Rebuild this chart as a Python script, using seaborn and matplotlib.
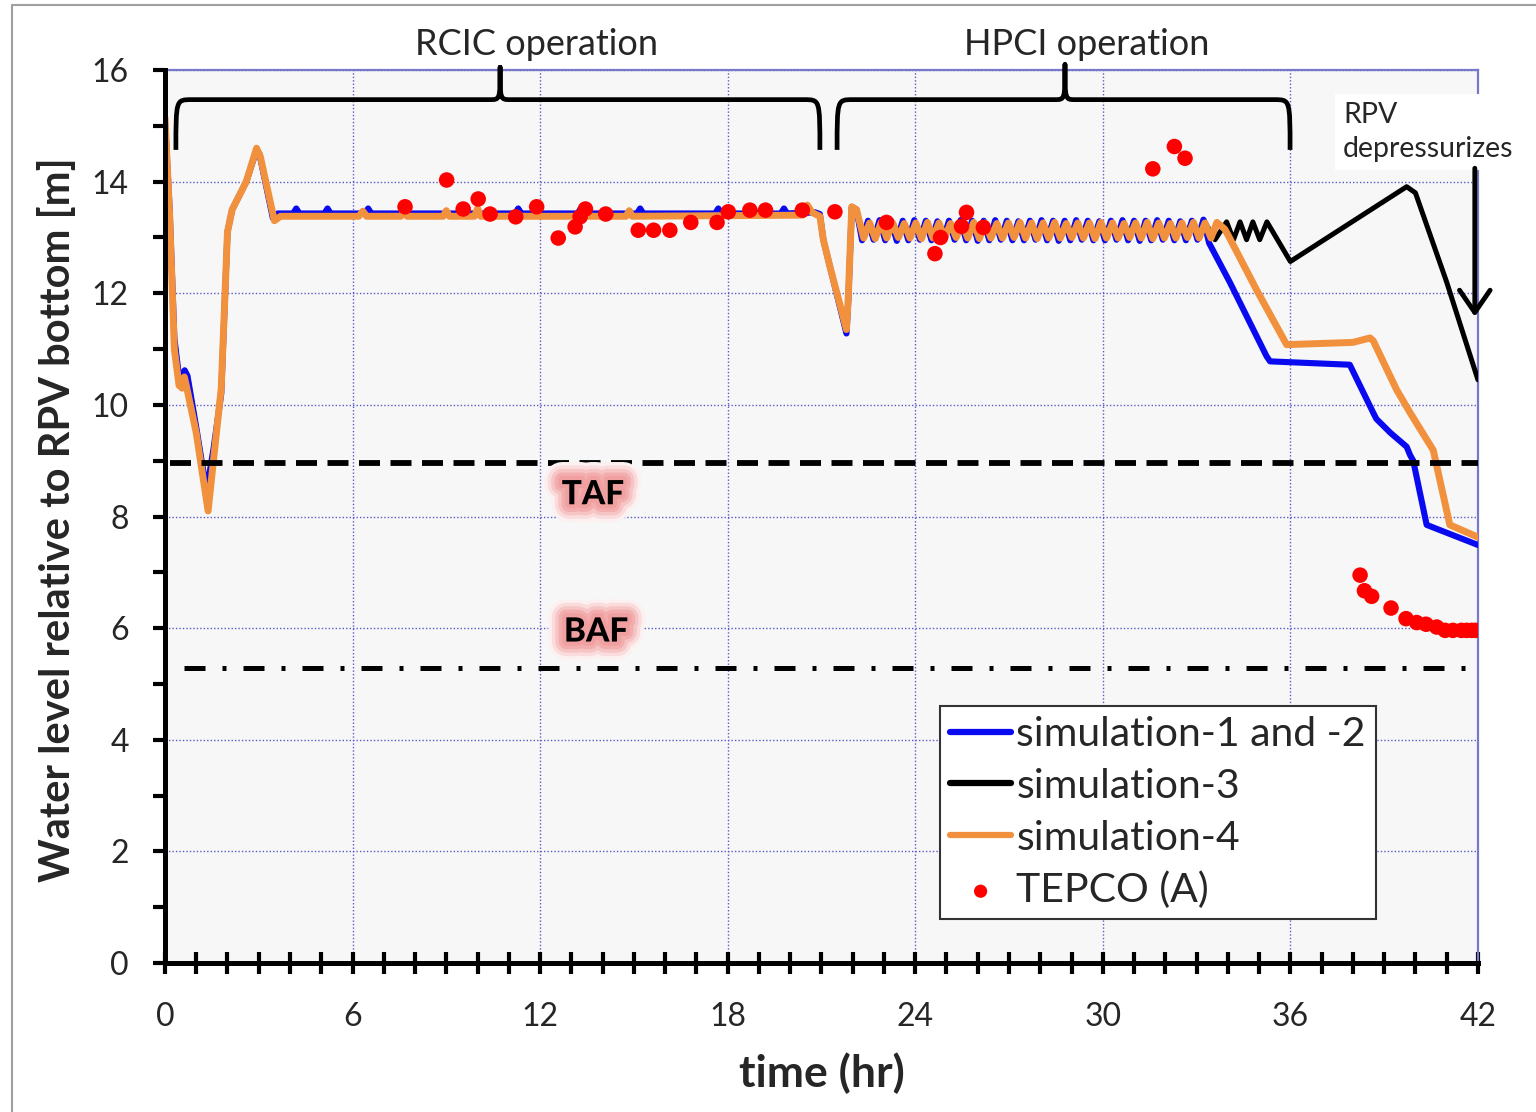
import numpy as np
import pandas as pd
import seaborn as sns
import matplotlib.pyplot as plt
from matplotlib.path import Path
from matplotlib.patches import PathPatch
from matplotlib.lines import Line2D
from matplotlib.ticker import MultipleLocator
import matplotlib.patheffects as pe

sns.set_theme(style="white")
plt.rcParams['font.family'] = ['Lato', 'DejaVu Sans']

# ---------------- data ----------------
zz_time = [22.30, 22.49, 22.67, 22.86, 23.04, 23.23, 23.41, 23.60, 23.78, 23.97,
           24.15, 24.34, 24.52, 24.71, 24.89, 25.08, 25.26, 25.45, 25.63, 25.82,
           26.00, 26.19, 26.37, 26.56, 26.74, 26.93, 27.11, 27.30, 27.48, 27.67,
           27.85, 28.04, 28.22, 28.41, 28.59, 28.78, 28.96, 29.15, 29.33, 29.52,
           29.70, 29.89, 30.07, 30.26, 30.44, 30.63, 30.81, 31.00, 31.18, 31.37,
           31.55, 31.74, 31.92, 32.11, 32.29, 32.48, 32.66, 32.85, 33.03, 33.22]
zz_level_sim12 = [12.95, 13.30, 12.96, 13.31, 12.95, 13.30, 12.94, 13.30, 12.95, 13.31,
                  12.96, 13.30, 12.95, 13.29, 12.95, 13.30, 12.96, 13.31, 12.95, 13.30,
                  12.94, 13.30, 12.95, 13.31, 12.96, 13.30, 12.95, 13.29, 12.95, 13.30,
                  12.96, 13.31, 12.95, 13.30, 12.94, 13.30, 12.95, 13.31, 12.96, 13.30,
                  12.95, 13.29, 12.95, 13.30, 12.96, 13.31, 12.95, 13.30, 12.94, 13.30,
                  12.95, 13.31, 12.96, 13.30, 12.95, 13.29, 12.95, 13.30, 12.96, 13.32]
zz_time_sim4 = [22.35, 22.54, 22.72, 22.91, 23.09, 23.28, 23.46, 23.65, 23.83, 24.02,
                24.20, 24.39, 24.57, 24.76, 24.94, 25.13, 25.31, 25.50, 25.68, 25.87,
                26.05, 26.24, 26.42, 26.61, 26.79, 26.98, 27.16, 27.35, 27.53, 27.72,
                27.90, 28.09, 28.27, 28.46, 28.64, 28.83, 29.01, 29.20, 29.38, 29.57,
                29.75, 29.94, 30.12, 30.31, 30.49, 30.68, 30.86, 31.05, 31.23, 31.42,
                31.60, 31.79, 31.97, 32.16, 32.34, 32.53, 32.71, 32.90, 33.08, 33.27]
zz_level_sim4 = [12.99, 13.26, 12.98, 13.27, 12.99, 13.26, 13.00, 13.25, 12.99, 13.26,
                 12.98, 13.27, 12.99, 13.26, 12.99, 13.25, 13.00, 13.26, 12.99, 13.27,
                 12.98, 13.26, 12.99, 13.25, 12.99, 13.26, 13.00, 13.27, 12.99, 13.26,
                 12.98, 13.26, 12.99, 13.27, 12.99, 13.25, 13.00, 13.26, 12.99, 13.26,
                 12.98, 13.27, 12.99, 13.26, 12.99, 13.25, 13.00, 13.26, 12.99, 13.27,
                 12.98, 13.26, 12.99, 13.25, 12.99, 13.26, 13.00, 13.27, 12.99, 13.26]

sim12_head_time = [0.00, 0.15, 0.30, 0.45, 0.55, 0.63, 0.72, 1.00, 1.33, 1.55, 1.80, 2.00,
                   2.15, 2.60, 2.92, 3.02, 3.45, 3.60,
                   4.10, 4.20, 4.30, 5.10, 5.20, 5.30, 6.40, 6.50, 6.60, 9.40, 9.50, 9.60,
                   11.20, 11.30, 11.40, 13.20, 13.30, 13.40, 15.10, 15.20, 15.30,
                   17.60, 17.70, 17.80, 18.70, 18.80, 18.90, 19.70, 19.80, 19.90,
                   20.80, 20.95, 21.06, 21.27, 21.80, 21.86, 21.97, 22.12]
sim12_head_level = [15.10, 13.50, 11.20, 10.50, 10.55, 10.62, 10.52, 9.60, 8.45, 9.20, 10.20, 13.10,
                    13.50, 14.00, 14.55, 14.50, 13.35, 13.43,
                    13.43, 13.52, 13.43, 13.43, 13.52, 13.43, 13.43, 13.52, 13.43, 13.43, 13.52, 13.43,
                    13.43, 13.52, 13.43, 13.43, 13.52, 13.43, 13.43, 13.52, 13.43,
                    13.43, 13.52, 13.43, 13.43, 13.55, 13.43, 13.43, 13.52, 13.43,
                    13.45, 13.42, 12.96, 12.48, 11.28, 11.88, 13.55, 13.50]
sim12_tail_time = [33.40, 34.07, 35.24, 35.35, 37.90, 38.65, 38.75, 39.20, 39.72, 39.83,
                   39.93, 40.36, 42.00]
sim12_tail_level = [12.90, 12.19, 10.87, 10.78, 10.72, 9.86, 9.75, 9.50, 9.25, 9.10,
                    9.00, 7.85, 7.49]

sim3_tail_time = [33.59, 33.96, 34.18, 34.39, 34.60, 34.80, 35.02, 35.25, 36.00, 39.72,
                  40.00, 41.00, 42.00]
sim3_tail_level = [12.96, 13.28, 12.96, 13.28, 12.96, 13.28, 12.96, 13.28, 12.57, 13.91,
                   13.80, 12.20, 10.45]

sim4_head_time = [0.00, 0.15, 0.30, 0.45, 0.55, 0.62, 0.70, 1.00, 1.38, 1.55, 1.80, 2.00,
                  2.15, 2.60, 2.93, 3.05, 3.50, 3.70,
                  6.20, 6.33, 6.45, 7.55, 7.65, 7.75, 8.90, 9.00, 9.10, 9.90, 10.00, 10.10,
                  14.75, 14.85, 14.95, 20.40, 20.55, 20.70, 20.80,
                  20.95, 21.06, 21.27, 21.80, 21.86, 21.97, 22.12]
sim4_head_level = [15.15, 13.40, 11.00, 10.35, 10.30, 10.50, 10.30, 9.50, 8.10, 9.00, 10.30, 13.10,
                   13.50, 14.00, 14.60, 14.45, 13.30, 13.38,
                   13.38, 13.47, 13.38, 13.38, 13.47, 13.38, 13.38, 13.48, 13.38, 13.38, 13.52, 13.38,
                   13.38, 13.48, 13.38, 13.40, 13.58, 13.45, 13.42,
                   13.38, 12.96, 12.48, 11.35, 11.95, 13.55, 13.50]
sim4_tail_time = [33.46, 33.65, 33.90, 34.00, 34.92, 35.88, 38.00, 38.55, 38.65, 39.40,
                  39.83, 40.57, 41.10, 42.00]
sim4_tail_level = [12.99, 13.27, 13.15, 13.05, 12.06, 11.08, 11.12, 11.20, 11.15, 10.27,
                   9.86, 9.19, 7.85, 7.63]

tepco_time = [7.68, 9.01, 9.54, 10.02, 10.40, 11.22, 11.89, 12.58, 13.12, 13.28, 13.45, 14.10,
              15.14, 15.63, 16.15, 16.82, 17.66, 18.02, 18.71, 19.21, 20.39, 21.43, 23.08,
              24.63, 24.81, 25.48, 25.64, 26.18, 31.60, 32.29, 32.63, 38.23, 38.37, 38.60,
              39.22, 39.70, 40.04, 40.34, 40.68, 40.95, 41.20, 41.47, 41.64, 41.80, 41.92]
tepco_level = [13.55, 14.03, 13.51, 13.69, 13.42, 13.37, 13.55, 12.99, 13.19, 13.37, 13.51, 13.42,
               13.13, 13.13, 13.13, 13.27, 13.27, 13.46, 13.49, 13.49, 13.49, 13.46, 13.27,
               12.71, 13.00, 13.20, 13.45, 13.18, 14.23, 14.63, 14.42, 6.95, 6.67, 6.57,
               6.36, 6.17, 6.10, 6.07, 6.02, 5.96, 5.96, 5.96, 5.96, 5.96, 5.96]

TAF_LEVEL = 8.96
BAF_LEVEL = 5.29

x_ticks = [0, 6, 12, 18, 24, 30, 36, 42]
y_ticks = [0, 2, 4, 6, 8, 10, 12, 14, 16]

sim12_time = sim12_head_time + zz_time + sim12_tail_time
sim12_level = sim12_head_level + zz_level_sim12 + sim12_tail_level
sim3_time = sim12_head_time + zz_time + sim3_tail_time
sim3_level = sim12_head_level + zz_level_sim12 + sim3_tail_level
sim4_time = sim4_head_time + zz_time_sim4 + sim4_tail_time
sim4_level = sim4_head_level + zz_level_sim4 + sim4_tail_level

# ---------------- figure ----------------
fig = plt.figure(figsize=(15.36, 11.12), dpi=100)
ax = fig.add_axes([0.1074, 0.134, 0.8548, 0.803])
ax.set_facecolor('#f7f7f7')

C_BLUE = '#0a0af0'
C_ORANGE = '#f2913d'
LW = {'simulation-3': 3.6, 'simulation-1 and -2': 4.4, 'simulation-4': 5.0}

sns.lineplot(x=sim3_time, y=sim3_level, ax=ax, color='black', linewidth=LW['simulation-3'],
             label='simulation-3', sort=False, estimator=None, zorder=3)
ax.lines[-1].set_linewidth(LW['simulation-3'])
sns.lineplot(x=sim12_time, y=sim12_level, ax=ax, color=C_BLUE, linewidth=LW['simulation-1 and -2'],
             label='simulation-1 and -2', sort=False, estimator=None, zorder=4)
ax.lines[-1].set_linewidth(LW['simulation-1 and -2'])
sns.lineplot(x=sim4_time, y=sim4_level, ax=ax, color=C_ORANGE, linewidth=LW['simulation-4'],
             label='simulation-4', sort=False, estimator=None, zorder=5)
ax.lines[-1].set_linewidth(LW['simulation-4'])
sns.scatterplot(x=tepco_time, y=tepco_level, ax=ax, color='#ff0000', s=125,
                edgecolor='none', label='TEPCO (A)', zorder=7)

# TAF / BAF reference levels
ax.axhline(TAF_LEVEL, xmin=0.15 / 42, xmax=1, color='black', lw=4.2,
           linestyle=(0, (3.6, 1.8)), zorder=6)
ax.axhline(BAF_LEVEL, xmin=0.6 / 42, xmax=1, color='black', lw=3.6,
           linestyle=(0, (4.2, 3.4, 0.8, 3.4)), zorder=6)

glow = [pe.Stroke(linewidth=26, foreground='#fdf0f0'),
        pe.Stroke(linewidth=21, foreground='#fadcdc'),
        pe.Stroke(linewidth=16, foreground='#f6c4c4'),
        pe.Stroke(linewidth=11, foreground='#f2adad'),
        pe.Stroke(linewidth=6, foreground='#f0a0a0'),
        pe.Normal()]
ax.text(13.69, 8.39, 'TAF', fontsize=24, fontweight='black', ha='center', va='center',
        path_effects=glow, zorder=8, color='black')
ax.text(13.79, 5.93, 'BAF', fontsize=24, fontweight='black', ha='center', va='center',
        path_effects=glow, zorder=8, color='black')

# axes styling
ax.set_xlim(0, 42)
ax.set_ylim(0, 16)
ax.set_xticks(x_ticks)
ax.set_yticks(y_ticks)
ax.xaxis.set_minor_locator(MultipleLocator(1))
ax.yaxis.set_minor_locator(MultipleLocator(1))
ax.grid(which='major', color='#5a5acc', linestyle=(0, (1, 1.5)), lw=1.0, zorder=1)
ax.set_axisbelow(True)

for s in ['left', 'bottom']:
    ax.spines[s].set_color('black')
    ax.spines[s].set_linewidth(3.6)
    ax.spines[s].set_zorder(9)
for s in ['top', 'right']:
    ax.spines[s].set_color('#7878c8')
    ax.spines[s].set_linewidth(1.6)

ax.tick_params(axis='x', which='both', direction='inout', length=16, width=3,
               bottom=True, top=False, color='black', labelsize=23, pad=20)
ax.tick_params(axis='y', which='both', direction='out', length=9, width=3,
               left=True, right=False, color='black', labelsize=23, pad=17)

ax.set_xlabel('time (hr)', fontsize=32, fontweight='bold')
ax.xaxis.set_label_coords(0.5004, -0.100)
ax.set_ylabel('Water level relative to RPV bottom [m]', fontsize=30, fontweight='bold')
ax.yaxis.set_label_coords(-0.067, 0.496)

# braces
def brace(x0, x1, xm, y_line, y_end, y_tip, dx=0.5, dm=0.32):
    verts = [(x0, y_end),
             (x0, y_line), (x0, y_line), (x0 + dx, y_line),
             (xm - dm, y_line),
             (xm, y_line), (xm, y_line), (xm, y_tip),
             (xm, y_line), (xm, y_line), (xm + dm, y_line),
             (x1 - dx, y_line),
             (x1, y_line), (x1, y_line), (x1, y_end)]
    codes = [Path.MOVETO,
             Path.CURVE4, Path.CURVE4, Path.CURVE4,
             Path.LINETO,
             Path.CURVE4, Path.CURVE4, Path.CURVE4,
             Path.CURVE4, Path.CURVE4, Path.CURVE4,
             Path.LINETO,
             Path.CURVE4, Path.CURVE4, Path.CURVE4]
    patch = PathPatch(Path(verts, codes), fill=False, lw=3.4, edgecolor='black',
                      clip_on=False, zorder=8, capstyle='butt', joinstyle='round')
    ax.add_patch(patch)

brace(0.35, 20.95, 10.72, 15.47, 14.57, 16.05)
brace(21.50, 35.99, 28.79, 15.47, 14.57, 16.10)

ax.text(11.9, 16.45, 'RCIC operation', ha='center', va='center', fontsize=26)
ax.text(29.5, 16.45, 'HPCI operation', ha='center', va='center', fontsize=26)

ax.text(37.68, 14.89, 'RPV\ndepressurizes', ha='left', va='center', fontsize=20.5,
        linespacing=1.35, zorder=9,
        bbox=dict(facecolor='white', edgecolor='none', pad=6))
ax.annotate('', xy=(41.9, 11.58), xytext=(41.9, 14.24),
            arrowprops=dict(arrowstyle='->,head_length=0.8,head_width=0.55', lw=3.5,
                            color='black', shrinkA=0, shrinkB=0, mutation_scale=20),
            zorder=10, annotation_clip=False)

# legend
handles, labels = ax.get_legend_handles_labels()
order = ['simulation-1 and -2', 'simulation-3', 'simulation-4', 'TEPCO (A)']
hmap = dict(zip(labels, handles))
leg = ax.legend([hmap[k] for k in order], order, loc='upper left',
                bbox_to_anchor=(0.590, 0.288), borderaxespad=0, fontsize=29.5,
                frameon=True, fancybox=False, framealpha=1, edgecolor='#333333',
                handlelength=1.5, handletextpad=0.12, labelspacing=0.36,
                borderpad=0.25, markerscale=0.85)
leg.get_frame().set_linewidth(1.5)
leg.set_zorder(12)
for h in leg.legend_handles[:3]:
    h.set_linewidth(4.5)
    h.set_solid_capstyle('round')

# figure frame lines
fig.add_artist(Line2D([12 / 1536, 12 / 1536], [0, 1 - 5 / 1112], transform=fig.transFigure,
                      color='#a0a0a0', lw=1.5))
fig.add_artist(Line2D([12 / 1536, 1], [1 - 5 / 1112, 1 - 5 / 1112], transform=fig.transFigure,
                      color='#a0a0a0', lw=1.5))

fig.savefig('out.png', dpi=100)
